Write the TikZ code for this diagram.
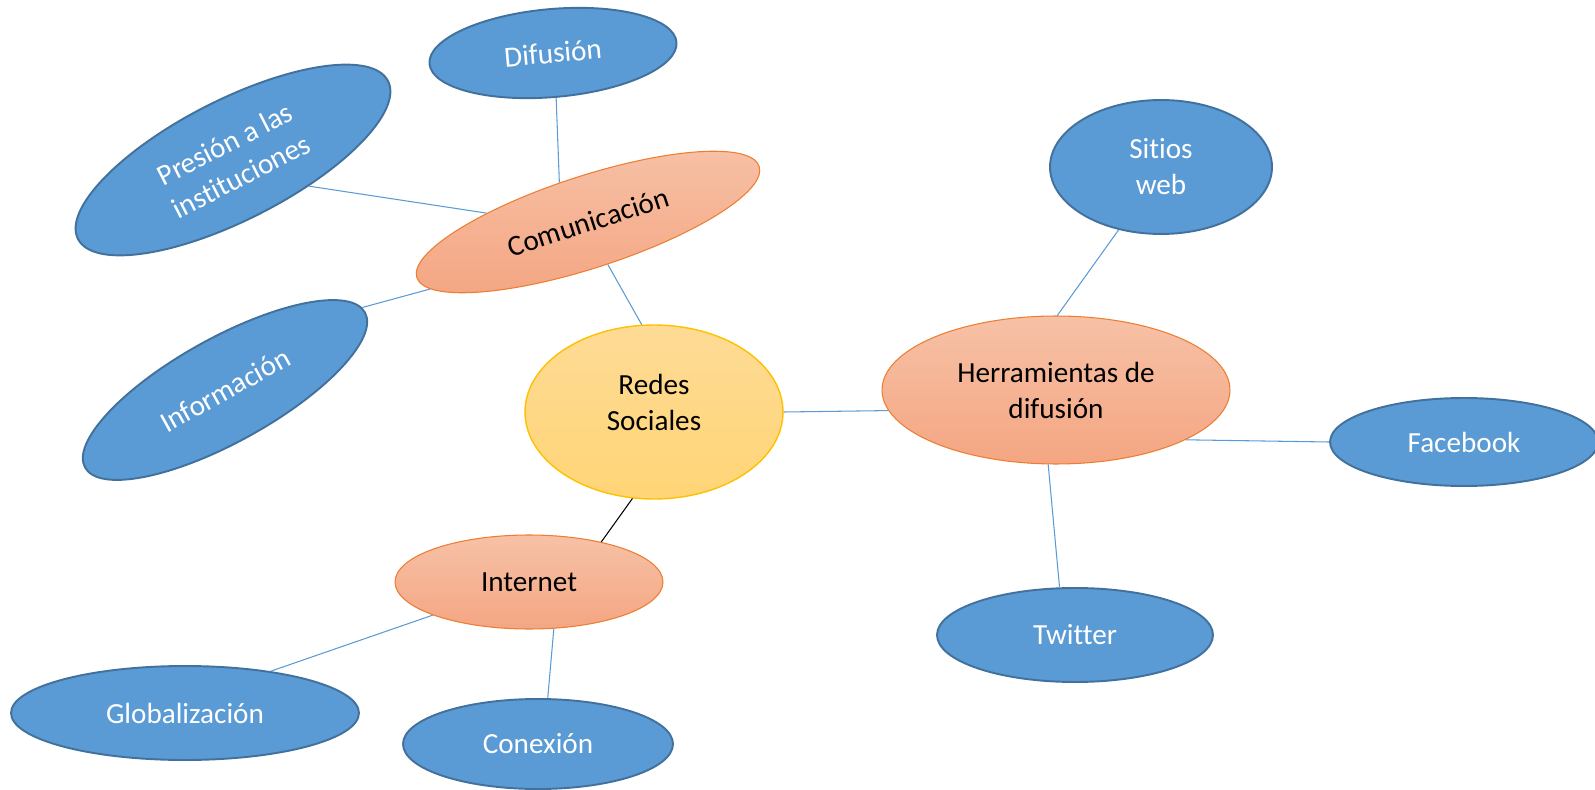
\documentclass[tikz,border=0pt]{standalone}
\usepackage{fontspec}
\setmainfont[Ligatures=NoCommon]{Carlito}
\usetikzlibrary{shapes.geometric}
\definecolor{nodeblue}{RGB}{91,155,213}
\definecolor{edgeblue}{RGB}{65,113,156}
\definecolor{orangeline}{RGB}{237,125,49}
\definecolor{orangetop}{RGB}{247,193,167}
\definecolor{orangebot}{RGB}{244,166,130}
\definecolor{yellowtop}{RGB}{254,219,150}
\definecolor{yellowbot}{RGB}{255,213,118}
\definecolor{yellowline}{RGB}{255,192,0}

\begin{document}
\begin{tikzpicture}[x=0.02cm,y=-0.02cm,
    every node/.style={font=\fontsize{16.6}{20.5}\selectfont, align=center, inner sep=0pt},
    blueell/.style={ellipse, draw=edgeblue, line width=1.1pt, fill=nodeblue, text=white},
    orangeell/.style={ellipse, draw=orangeline, line width=0.6pt, top color=orangetop, bottom color=orangebot},
    yellowell/.style={ellipse, draw=yellowline, line width=0.8pt, top color=yellowtop, bottom color=yellowbot},
    link/.style={draw=nodeblue, line width=0.6pt}]
    \useasboundingbox (0,0) rectangle (1595,790);
    \node[yellowell, minimum width=5.16cm, minimum height=3.48cm, text height=1.13cm, text depth=0.4cm] (red) at (654,412) {Redes\\Sociales};
    \node[orangeell, rotate=18, minimum width=7.2cm, minimum height=1.84cm] (com) at (588,222) {Comunicación};
    \node[orangeell, minimum width=6.96cm, minimum height=2.96cm] (her) at (1056,390) {Herramientas de\\difusión};
    \node[orangeell, minimum width=5.36cm, minimum height=1.88cm] (int) at (529,582) {Internet};%
    \node[blueell, rotate=5, minimum width=4.96cm, minimum height=1.76cm] (dif) at (553,53) {Difusión};
    \node[blueell, rotate=27, minimum width=6.96cm, minimum height=2.4cm] (pre) at (233,160) {Presión a las\\instituciones};
    \node[blueell, rotate=29, minimum width=6.4cm, minimum height=2.08cm] (inf) at (225,390) {Información};
    \node[blueell, minimum width=4.44cm, minimum height=2.68cm] (sit) at (1161,167) {Sitios\\web};
    \node[blueell, minimum width=5.36cm, minimum height=1.76cm] (fac) at (1464,442) {Facebook};
    \node[blueell, minimum width=5.52cm, minimum height=1.88cm] (twi) at (1075,635) {Twitter};
    \node[blueell, minimum width=6.96cm, minimum height=1.88cm] (glo) at (185,713) {Globalización};
    \node[blueell, minimum width=5.4cm, minimum height=1.8cm] (con) at (538,744) {Conexión};%
    \draw[link] (dif.269) -- (com.108);
    \draw[link] (pre.314) -- (com.157);
    \draw[link] (inf.2) -- (com.185);
    \draw[link] (com.277) -- (red.98);
    \draw[link] (red.0) -- (her.187);
    \draw[line width=0.6pt] (red.256) -- (int.29);
    \draw[link] (int.199) -- (glo.26);
    \draw[link] (int.298) -- (con.78);
    \draw[link] (her.89) -- (sit.236);
    \draw[link] (her.339) -- (fac.180);
    \draw[link] (her.264) -- (twi.108);%
\end{tikzpicture}
\end{document}
